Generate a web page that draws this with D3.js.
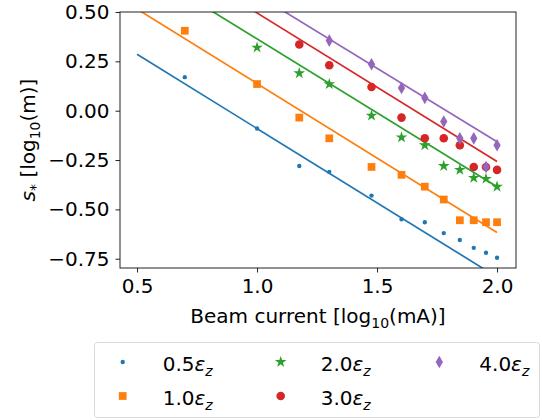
<!DOCTYPE html>
<html>
<head>
<meta charset="utf-8">
<script src="https://cdn.jsdelivr.net/npm/d3@7"></script>
<style>
  body { margin: 0; background: #fff; }
  text { font-family: "DejaVu Sans", sans-serif; fill: #000; }
</style>
</head>
<body>
<div id="root"></div>
<script>
// beam current, log10(mA)
var currents = [0.699, 1.0, 1.176, 1.301, 1.477, 1.602, 1.699, 1.778, 1.845, 1.903, 1.954, 2.0];

var seriesNames = ['0.5', '1.0', '2.0', '3.0', '4.0'];
var colors = ['#1f77b4', '#ff7f0e', '#2ca02c', '#d62728', '#9467bd'];
var markers = ['point', 'square', 'star', 'circle', 'diamond'];

// s* values, null where no point is drawn
var s05 = [0.17, -0.09, -0.28, -0.31, -0.43, -0.55, -0.565, -0.62, -0.655, -0.695, -0.72, -0.745];
var s10 = [0.405, 0.135, -0.035, -0.14, -0.285, -0.325, -0.385, -0.45, -0.555, -0.555, -0.565, -0.565];
var s20 = [null, 0.32, 0.19, 0.135, -0.025, -0.135, -0.175, -0.28, -0.30, -0.34, -0.345, -0.385];
var s30 = [null, null, 0.335, 0.23, 0.12, -0.035, -0.14, -0.14, -0.175, -0.285, -0.285, -0.30];
var s40 = [null, null, null, 0.355, 0.235, 0.115, 0.065, -0.055, -0.14, -0.14, -0.285, -0.175];
var values = [s05, s10, s20, s30, s40];

// fitted lines, value at x = 0.5 and x = 2.0
var fitX = [0.5, 2.0];
var fitY = [[0.286, -0.843], [0.515, -0.617], [0.738, -0.385], [0.871, -0.257], [0.959, -0.157]];

var xTicks = [0.5, 1.0, 1.5, 2.0];
var yTicks = [0.5, 0.25, 0.0, -0.25, -0.5, -0.75];

var W = 542, H = 420;
var m = {left: 120, top: 12, right: 516, bottom: 268};
var FS = '20px', SUB = '14px';

var svg = d3.select('#root').append('svg')
  .attr('width', W).attr('height', H);

var x = d3.scaleLinear().domain([0.429, 2.079]).range([m.left, m.right]);
var y = d3.scaleLinear().domain([-0.797, 0.5]).range([m.bottom, m.top]);

svg.append('clipPath').attr('id', 'clip')
  .append('rect')
    .attr('x', m.left).attr('y', m.top)
    .attr('width', m.right - m.left).attr('height', m.bottom - m.top);

var plot = svg.append('g').attr('clip-path', 'url(#clip)');

var line = d3.line().x(d => x(d[0])).y(d => y(d[1]));

fitY.forEach((f, i) => {
  plot.append('path')
    .attr('d', line(fitX.map((v, j) => [v, f[j]])))
    .attr('fill', 'none')
    .attr('stroke', colors[i])
    .attr('stroke-width', 1.7);
});

function markerPath(type) {
  if (type === 'point') return d3.symbol(d3.symbolCircle, 15)();
  if (type === 'square') return d3.symbol(d3.symbolSquare, 60)();
  if (type === 'star') return d3.symbol(d3.symbolStar, 42)();
  if (type === 'circle') return d3.symbol(d3.symbolCircle, 58)();
  return d3.symbol(d3.symbolDiamond, 46)();
}

values.forEach((vals, i) => {
  var pts = currents.map((c, j) => [c, vals[j]]).filter(d => d[1] !== null);
  svg.append('g').selectAll('path')
    .data(pts)
    .enter().append('path')
      .attr('d', markerPath(markers[i]))
      .attr('transform', d => 'translate(' + x(d[0]) + ',' + y(d[1]) + ')')
      .attr('fill', colors[i]);
});

// frame
svg.append('rect')
  .attr('x', m.left).attr('y', m.top)
  .attr('width', m.right - m.left).attr('height', m.bottom - m.top)
  .attr('fill', 'none').attr('stroke', '#222').attr('stroke-width', 1);

var xAxis = svg.append('g')
  .attr('transform', 'translate(0,' + m.bottom + ')')
  .call(d3.axisBottom(x).tickValues(xTicks).tickFormat(d3.format('.1f')).tickSizeOuter(0).tickSize(4.5).tickPadding(6));
var yAxis = svg.append('g')
  .attr('transform', 'translate(' + m.left + ',0)')
  .call(d3.axisLeft(y).tickValues(yTicks).tickFormat(d => d3.format('.2f')(d).replace('-', '\u2212')).tickSizeOuter(0).tickSize(4.5).tickPadding(6));

[xAxis, yAxis].forEach(a => {
  a.select('.domain').remove();
  a.selectAll('line').attr('stroke', '#222').attr('stroke-width', 1);
  a.selectAll('text').style('font-family', '"DejaVu Sans", sans-serif').style('font-size', FS).attr('fill', '#000');
});

// axis labels
var xl = svg.append('text')
  .attr('x', 318).attr('y', 323)
  .attr('text-anchor', 'middle').style('font-size', FS);
xl.append('tspan').text('Beam current [log');
xl.append('tspan').attr('dy', 5).style('font-size', SUB).text('10');
xl.append('tspan').attr('dy', -5).text('(mA)]');

var yl = svg.append('text')
  .attr('transform', 'translate(35,' + ((m.top + m.bottom) / 2) + ') rotate(-90)')
  .attr('text-anchor', 'middle').style('font-size', FS);
yl.append('tspan').style('font-style', 'italic').text('s');
yl.append('tspan').attr('dy', 5).style('font-size', SUB).text('*');
yl.append('tspan').attr('dy', -5).text(' [log');
yl.append('tspan').attr('dy', 5).style('font-size', SUB).text('10');
yl.append('tspan').attr('dy', -5).text('(m)]');

// legend
svg.append('rect')
  .attr('x', 94.5).attr('y', 342.5)
  .attr('width', 445).attr('height', 75)
  .attr('rx', 3)
  .attr('fill', '#fff').attr('stroke', '#d9d9d9').attr('stroke-width', 1);

var colX = [122.7, 280.7, 439.3];
var rowY = [362, 396];
seriesNames.forEach((name, i) => {
  var c = Math.floor(i / 2), r = i % 2;
  var mx = colX[c], my = rowY[r];
  svg.append('path')
    .attr('d', markerPath(markers[i]))
    .attr('transform', 'translate(' + mx + ',' + my + ')')
    .attr('fill', colors[i]);
  var t = svg.append('text')
    .attr('x', mx + 40).attr('y', my + 8.5)
    .style('font-size', FS);
  t.append('tspan').text(name);
  t.append('tspan').style('font-style', 'italic').text('\u03b5');
  t.append('tspan').attr('dy', 5).style('font-size', SUB).style('font-style', 'italic').text('z');
});
</script>
</body>
</html>
